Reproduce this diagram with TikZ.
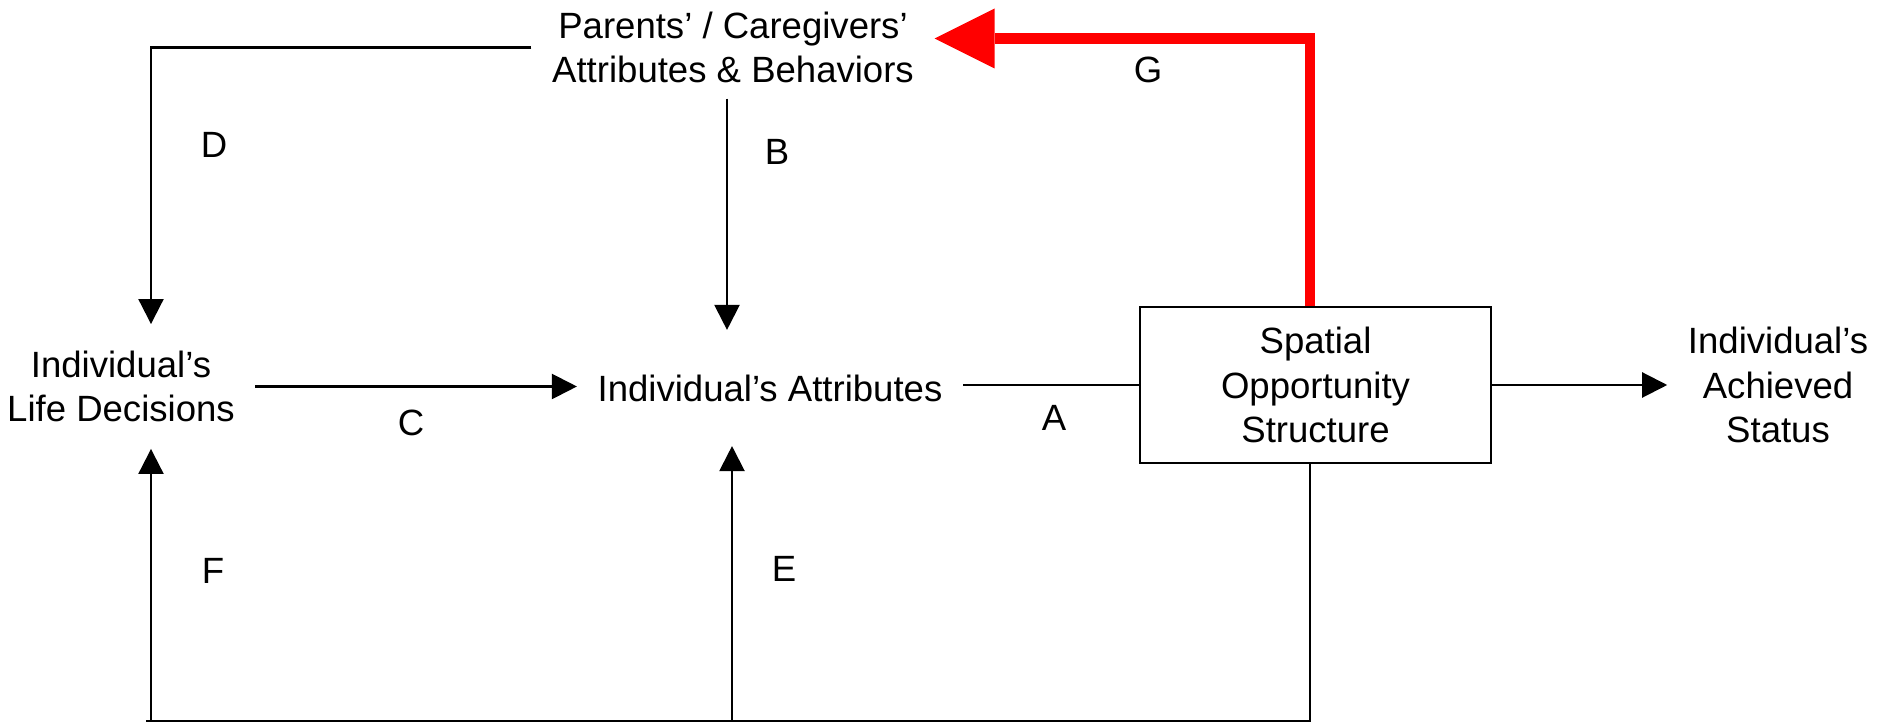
\documentclass[tikz,border=0pt]{standalone}
\usepackage{fontspec}
\setmainfont{Liberation Sans}
\usepackage{xcolor}
\usepackage{tikz}
\usetikzlibrary{arrows.meta}
\definecolor{fbred}{HTML}{FF0000}
\newcommand{\mainsize}{\fontsize{10.4pt}{12.7pt}\selectfont}
\tikzset{
  linkarrow/.style={-{Triangle[length=2.5mm,width=2.5mm]}, line width=0.6pt, draw=black},
  linkline/.style={line width=0.6pt, draw=black},
  feedback/.style={-{Triangle[length=6mm,width=6mm,line width=0pt]}, line width=3.1pt, draw=fbred},
  concept/.style={align=center, inner xsep=0.2cm, font=\mainsize},
  structbox/.style={draw=black, line width=0.8pt, align=center, inner sep=2pt,
    minimum width=3.51cm, minimum height=1.56cm, font=\mainsize},
  tag/.style={inner sep=0pt, font=\mainsize}
}

\begin{document}
\begin{tikzpicture}
        \useasboundingbox (0,0) rectangle (18.77,7.22);

        \node[concept, inner ysep=4.2pt] (parents) at (7.33,6.745) {Parents’ / Caregivers’\\Attributes \& Behaviors};
        \node[concept, inner ysep=7.4pt] (lifedec) at (1.21,3.355) {Individual’s\\Life Decisions};
        \node[concept, inner ysep=12.5pt] (attr) at (7.70,3.34) {Individual’s Attributes};
        \node[structbox] (sos) at (13.155,3.37) {Spatial\\Opportunity\\Structure};
        \node[concept] (status) at (17.78,3.37) {Individual’s\\Achieved\\Status};

        % columns of the vertical links and the bottom rail
        \coordinate (colD) at (1.51,0);
        \coordinate (colB) at (7.27,0);
        \coordinate (colE) at (7.32,0);
        \coordinate (colS) at (13.10,0);
        \coordinate (rail) at (1.46,0.01);
        \coordinate (gtop) at (13.10,6.835);

        \draw[linkarrow] (parents.west) -| (colD |- lifedec.north);
        \draw[linkarrow] (parents.south -| colB) -- (colB |- attr.north);
        \draw[linkarrow] (lifedec.east) -- (lifedec.east -| attr.west);
        \draw[linkline] (sos.west -| attr.east) -- (sos.west);
        \draw[linkarrow] (sos.east) -- (sos.east -| status.west);
        \draw[linkline] (sos.south -| colS) -- (colS |- rail) -- (rail);
        \draw[linkarrow] (colD |- rail) -- (colD |- lifedec.south);
        \draw[linkarrow] (colE |- rail) -- (colE |- attr.south);
        \draw[feedback] (sos.north -| gtop) -- (gtop) -- (gtop -| parents.east);

        \foreach \lab/\px/\py in {A/10.54/3.045, B/7.77/5.70, C/4.11/2.99, D/2.14/5.77,
                                  E/7.84/1.53, F/2.13/1.51, G/11.48/6.52}
          \node[tag] (tag\lab) at (\px,\py) {\lab};
    \end{tikzpicture}
\end{document}
